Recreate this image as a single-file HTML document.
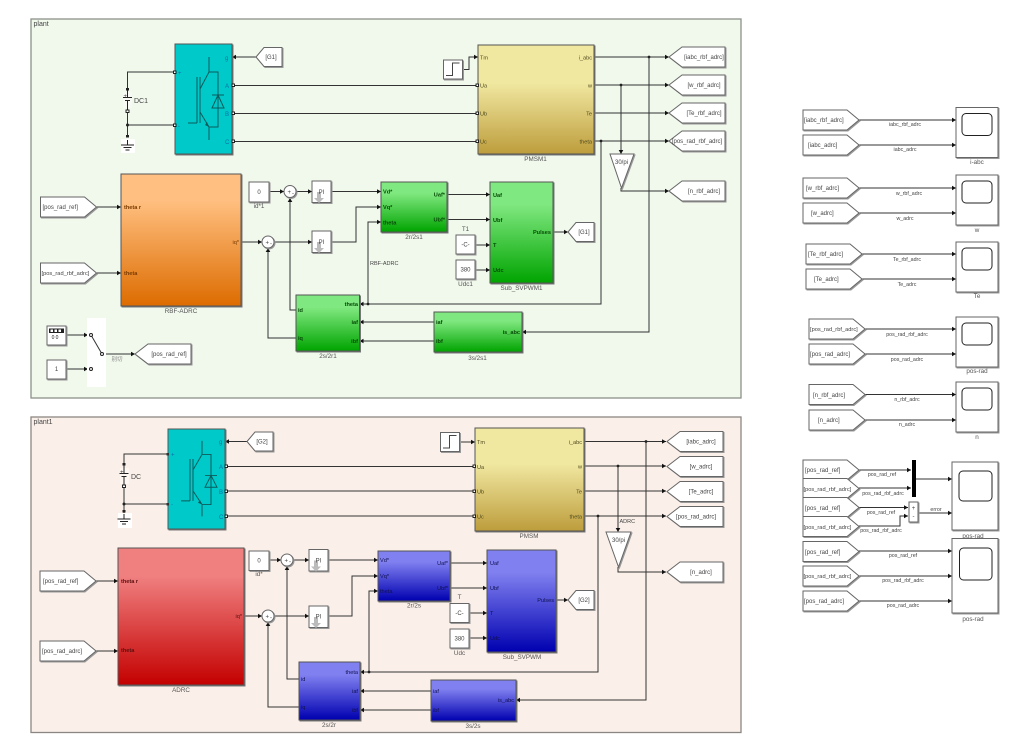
<!DOCTYPE html>
<html><head><meta charset="utf-8"><style>
html,body{margin:0;padding:0;background:#fff;width:1010px;height:749px;overflow:hidden}
svg{display:block;filter:blur(.3px)}
text{font-family:"Liberation Sans","Noto Sans CJK SC",sans-serif;font-size:6px;fill:#444}
.m{text-anchor:middle}.e{text-anchor:end}
.w{fill:none;stroke:#333;stroke-width:1}
.a{marker-end:url(#ar)}
.b{stroke:#555;stroke-width:1;filter:drop-shadow(1px 1px 0 #777)}
.c{fill:#fff;stroke:#666;stroke-width:1;filter:drop-shadow(1px 1px 0 #999)}
.n{fill:#222}
.sq{fill:#fff;stroke:#111;stroke-width:.9}
.ic{fill:none;stroke:#0b5b5b;stroke-width:1}
.big{font-size:7px}.lbl{font-size:6.3px;fill:#555}
.or text,.or{fill:#7a3a00;font-weight:bold;font-size:5.6px}
.gr{fill:#064a06;font-size:5.6px;font-weight:bold}
.bl{fill:#101050;font-size:5.6px}
.ye{fill:#4f4a20;font-size:5.6px}
.cy{fill:#0b6fa8;font-size:6px}
</style></head><body>
<svg width="1010" height="749" viewBox="0 0 1010 749" xmlns="http://www.w3.org/2000/svg">
<defs>
<marker id="ar" markerUnits="userSpaceOnUse" markerWidth="7" markerHeight="7" refX="5" refY="3.5" orient="auto"><path d="M1 1.2L5 3.5 1 5.8z" fill="#111"/></marker>
<linearGradient id="gO" x1="0" y1="0" x2="0" y2="1"><stop offset=".2" stop-color="#ffbf80"/><stop offset="1" stop-color="#dd6c00"/></linearGradient>
<linearGradient id="gY" x1="0" y1="0" x2="0" y2="1"><stop offset=".35" stop-color="#f0e7a0"/><stop offset="1" stop-color="#bd9d3c"/></linearGradient>
<linearGradient id="gG" x1="0" y1="0" x2="0" y2="1"><stop offset=".22" stop-color="#80e880"/><stop offset="1" stop-color="#00a400"/></linearGradient>
<linearGradient id="gB" x1="0" y1="0" x2="0" y2="1"><stop offset=".22" stop-color="#8080f0"/><stop offset="1" stop-color="#0000b0"/></linearGradient>
<linearGradient id="gR" x1="0" y1="0" x2="0" y2="1"><stop offset=".2" stop-color="#f08080"/><stop offset="1" stop-color="#c40000"/></linearGradient>
<path id="fr" d="M0-10h44l12 10-12 10H0z" class="c"/>
<path id="gl" d="M0 0l13-10h43v20H13z" class="c"/>
<path id="gs" d="M0 0l8-9.5h18v19H8z" class="c"/>
<g id="scope"><rect x="0" y="0" width="42" height="50" class="c"/><rect x="6" y="6" width="30" height="22" rx="4" fill="#fff" stroke="#222"/></g>
<g id="igbt">
<path class="ic" d="M22 33V79M25 33V79M13 79H22M34 13V28L25 45M25 68L34 83V96M34 28H43V83H34M43 28V51M43 64V83M37 51H49M37 64H49L43 51z"/>
<path d="M34 83l-4-2 2-3z" fill="#0b5b5b"/>
</g>
<g id="gnd"><path d="M0 0V5M-6.5 5H6.5M-4 7.5H4M-2 10H2" fill="none" stroke="#222" stroke-width="1"/></g>
<g id="pi"><rect width="19" height="21.5" class="c"/><path d="M5 11h4v6h3l-5 5-5-5h3z" fill="#bbb"/></g>
</defs>

<!-- panels -->
<rect x="31" y="19" width="710" height="379" fill="#f1f8ec" stroke="#8d9189" stroke-width="1.3"/>
<rect x="31" y="417" width="710" height="315.5" fill="#fbf0e9" stroke="#8a8683" stroke-width="1.3"/>
<text x="33.5" y="26" class="big" fill="#666">plant</text>
<text x="33.5" y="424" class="big" fill="#666">plant1</text>

<!-- ======= TOP WIRES ======= -->
<path class="w" d="M175 72H127.5V135M127.5 125H175M232 85.5H477M232 113.5H477M232 141.5H477"/>
<path class="w a" d="M256 57H232"/>
<path class="w a" d="M462 69.5H469V57H478"/>
<path class="w a" d="M594 57H669"/>
<path class="w a" d="M594 85H669"/>
<path class="w a" d="M594 113H669"/>
<path class="w a" d="M594 141H669"/>
<path class="w a" d="M621 85V154"/>
<path class="w a" d="M621 188V191H669"/>
<path class="w a" d="M649 57V332H522"/>
<path class="w a" d="M601 141V304H359.5"/>
<path class="w a" d="M368 304V222H381"/>
<path class="w a" d="M97 207H121"/>
<path class="w a" d="M97 273H121"/>
<path class="w a" d="M241 242H262"/>
<path class="w a" d="M274 242H312"/>
<path class="w a" d="M269 191.500H284"/>
<path class="w a" d="M296 191.500H312"/>
<path class="w a" d="M331 191.500H381"/>
<path class="w a" d="M331 242H356V207H381"/>
<path class="w a" d="M296 310H290V198"/>
<path class="w a" d="M296 338H268V248"/>
<path class="w a" d="M447 194.500H490"/>
<path class="w a" d="M447 219.500H490"/>
<path class="w a" d="M475 245H490"/>
<path class="w a" d="M475 270H490"/>
<path class="w a" d="M553 232H568"/>
<path class="w a" d="M434 322H359.500"/>
<path class="w a" d="M434 341H359.500"/>
<path class="w a" d="M66 335H88"/>
<path class="w a" d="M66 369H88"/>
<path class="w a" d="M104 354H135"/>

<!-- ======= TOP BLOCKS ======= -->
<rect x="175" y="44" width="57" height="110" fill="#00c9c9" class="b"/>
<use href="#igbt" x="175" y="44"/>
<text x="225" y="60" class="cy">g</text><text x="225" y="88" class="cy">A</text><text x="225" y="116" class="cy">B</text><text x="225" y="144" class="cy">C</text>
<text x="178" y="75" class="cy">+</text><text x="178" y="128" class="cy">-</text>
<rect x="173.500" y="71" width="2.500" height="2.500" class="sq"/><rect x="173.500" y="124" width="2.500" height="2.500" class="sq"/>
<rect x="232" y="84" width="2.500" height="2.500" class="sq"/><rect x="232" y="112" width="2.500" height="2.500" class="sq"/><rect x="232" y="140" width="2.500" height="2.500" class="sq"/>
<use href="#gs" x="256" y="57"/><text x="271" y="59" class="m">[G1]</text>

<rect x="123" y="92" width="9" height="16" fill="#f7faf4"/>
<path d="M127.500 88V97M123 97.500H132M125 100.500H130M127.500 100.500V110" fill="none" stroke="#222"/>
<text x="134" y="103" class="big" fill="#444">DC1</text><text x="123.500" y="98" font-size="5" fill="#222">+</text>
<rect x="126" y="88" width="3" height="2.500" fill="#222"/><rect x="126" y="110" width="3" height="2.500" class="sq"/>
<rect x="121" y="139" width="14" height="14" fill="#fff"/>
<use href="#gnd" x="127.500" y="140"/>
<rect x="126" y="135" width="3" height="2.500" fill="#222"/><circle cx="127.500" cy="125" r="1.500" class="n"/>

<rect x="478" y="45" width="116" height="109" fill="url(#gY)" class="b"/>
<text x="480" y="59.500" class="ye">Tm</text><text x="480" y="87.500" class="ye">Ua</text><text x="480" y="115.500" class="ye">Ub</text><text x="480" y="143.500" class="ye">Uc</text>
<text x="592" y="59.500" class="ye e">i_abc</text><text x="592" y="87.500" class="ye e">w</text><text x="592" y="115.500" class="ye e">Te</text><text x="592" y="143.500" class="ye e">theta</text>
<rect x="476" y="84" width="2.500" height="2.500" class="sq"/><rect x="476" y="112" width="2.500" height="2.500" class="sq"/><rect x="476" y="140" width="2.500" height="2.500" class="sq"/>
<text x="535.500" y="161" class="lbl m">PMSM1</text>
<rect x="443.500" y="60" width="19" height="19" class="c"/><path d="M446 75.500h6.500v-12.500h7" fill="none" stroke="#444"/>

<use href="#gl" x="669" y="57"/><use href="#gl" x="669" y="85"/><use href="#gl" x="669" y="113"/><use href="#gl" x="669" y="141"/><use href="#gl" x="669" y="191"/>
<text x="704" y="59" class="m">[iabc_rbf_adrc]</text><text x="704" y="87" class="m">[w_rbf_adrc]</text><text x="704" y="115" class="m">[Te_rbf_adrc]</text><text x="697" y="143" class="m">[pos_rad_rbf_adrc]</text><text x="704" y="193" class="m">[n_rbf_adrc]</text>
<path d="M610 154H634L621.500 188z" class="c"/><text x="621.500" y="164" class="m">30/pi</text>
<circle cx="649" cy="57" r="1.400" class="n"/><circle cx="621" cy="85" r="1.400" class="n"/><circle cx="601" cy="141" r="1.400" class="n"/><circle cx="368" cy="304" r="1.400" class="n"/>

<rect x="121" y="174" width="120" height="132" fill="url(#gO)" class="b"/>
<text x="124" y="209" class="or">theta r</text><text x="124" y="275" class="or">theta</text><text x="239" y="244" class="e" style="fill:#7a3a00;font-size:5.600px">iq*</text>
<text x="181" y="313" class="lbl m">RBF-ADRC</text>
<use href="#fr" x="40.500" y="207"/><use href="#fr" x="40.500" y="273"/>
<text x="42.500" y="209">[pos_rad_ref]</text><text x="41.500" y="275" style="font-size:5.700px">[pos_rad_rbf_adrc]</text>

<rect x="249" y="182" width="20" height="20" class="c"/><text x="259" y="194" class="m">0</text><text x="259" y="208" class="lbl m">id*1</text>
<circle cx="290" cy="191.500" r="6" class="c"/><text x="287.500" y="194" fill="#111">+</text><text x="292" y="195" fill="#111">-</text>
<circle cx="268" cy="242" r="6" class="c"/><text x="265.500" y="244.500" fill="#111">+</text><text x="270" y="245.500" fill="#111">-</text>
<use href="#pi" x="312" y="181"/><text x="321.500" y="194" class="m">PI</text>
<use href="#pi" x="312" y="231"/><text x="321.500" y="244" class="m">PI</text>

<rect x="381" y="182" width="66" height="50" fill="url(#gG)" class="b"/>
<text x="383" y="193.500" class="gr">Vd*</text><text x="383" y="209" class="gr">Vq*</text><text x="383" y="224.500" class="gr">theta</text>
<text x="445" y="196.500" class="gr e">Uaf*</text><text x="445" y="221.500" class="gr e">Ubf*</text>
<text x="414" y="239" class="lbl m">2r/2s1</text>
<text x="370" y="265" style="font-size:5.500px">RBF-ADRC</text>

<rect x="490" y="182" width="63" height="101" fill="url(#gG)" class="b"/>
<text x="493" y="197" class="gr">Uaf</text><text x="493" y="222" class="gr">Ubf</text><text x="493" y="247" class="gr">T</text><text x="493" y="272" class="gr">Udc</text>
<text x="551" y="234" class="gr e">Pulses</text>
<text x="521.500" y="290" class="lbl m">Sub_SVPWM1</text>
<use href="#gs" x="568" y="232"/><text x="584" y="234" class="m">[G1]</text>
<rect x="456" y="235" width="19" height="19" class="c"/><text x="465.500" y="246.500" class="m">-C-</text><text x="465.500" y="231" class="lbl m">T1</text>
<rect x="456" y="260" width="19" height="19" class="c"/><text x="465.500" y="271.500" class="m">380</text><text x="465.500" y="286" class="lbl m">Udc1</text>

<rect x="296" y="295" width="63.500" height="56" fill="url(#gG)" class="b"/>
<text x="298" y="312" class="gr">id</text><text x="298" y="340" class="gr">iq</text>
<text x="358" y="306" class="gr e">theta</text><text x="358" y="324" class="gr e">iaf</text><text x="358" y="343" class="gr e">ibf</text>
<text x="328" y="358" class="lbl m">2s/2r1</text>
<rect x="434" y="312" width="88" height="40" fill="url(#gG)" class="b"/>
<text x="436" y="324" class="gr">iaf</text><text x="436" y="343" class="gr">ibf</text><text x="520" y="334" class="gr e">is_abc</text>
<text x="477.500" y="360" class="lbl m">3s/2s1</text>

<rect x="87" y="318" width="19" height="69" fill="#fff"/>
<path class="w" d="M91 335L102 354"/>
<circle cx="91" cy="335" r="1.500" fill="#fff" stroke="#222"/><circle cx="91" cy="369" r="1.500" fill="#fff" stroke="#222"/><circle cx="102" cy="354" r="1.500" fill="#fff" stroke="#222"/>
<text x="117" y="361" class="m" style="font-size:5.500px;fill:#888">别切</text>
<rect x="47" y="326" width="19" height="19" class="c"/><rect x="49" y="328.500" width="15" height="4.500" fill="#222"/><path d="M50.500 329.500h2.500v2.500h-2.500zM54.500 329.500h2.500v2.500h-2.500zM58.500 329.500h2.500v2.500h-2.500z" fill="#fff"/><text x="53" y="339" style="font-size:5px;fill:#222" class="m">0</text><text x="57" y="339" style="font-size:5px;fill:#222" class="m">0</text>
<rect x="47" y="360" width="19" height="19" class="c"/><text x="56.500" y="371" class="m">1</text>
<use href="#gl" x="135" y="354"/><text x="169" y="356" class="m">[pos_rad_ref]</text>

<!-- ======= BOTTOM WIRES ======= -->
<path class="w" d="M168 454H124V515M124 504H168M225 466.500H474M225 491H474M225 516H474"/>
<path class="w a" d="M247 441.500H225"/>
<path class="w a" d="M459 442H475"/>
<path class="w a" d="M584 441.500H666"/>
<path class="w a" d="M584 466H666"/>
<path class="w a" d="M584 491H666"/>
<path class="w a" d="M584 516H666"/>
<path class="w a" d="M618 466V532"/>
<path class="w a" d="M618 567V572H666"/>
<path class="w a" d="M646 441.500V700H516"/>
<path class="w a" d="M598 516V672H360"/>
<path class="w a" d="M369 672V591H378"/>
<path class="w a" d="M96 581H118"/>
<path class="w a" d="M96 651H118"/>
<path class="w a" d="M244 616H262"/>
<path class="w a" d="M274 616H309"/>
<path class="w a" d="M269 560H281"/>
<path class="w a" d="M293 560H309"/>
<path class="w a" d="M328 560H378"/>
<path class="w a" d="M328 616H352V576H378"/>
<path class="w a" d="M299 679H287V566"/>
<path class="w a" d="M299 707H268V622"/>
<path class="w a" d="M450 563H487"/>
<path class="w a" d="M450 588H487"/>
<path class="w a" d="M469 613H487"/>
<path class="w a" d="M469 638H487"/>
<path class="w a" d="M556 600H568"/>
<path class="w a" d="M431 691H360"/>
<path class="w a" d="M431 710H360"/>

<!-- ======= BOTTOM BLOCKS ======= -->
<rect x="168" y="429" width="57" height="100" fill="#00c9c9" class="b"/>
<use href="#igbt" transform="translate(168,429) scale(1,.91)"/>
<text x="219" y="444" class="cy">g</text><text x="219" y="469" class="cy">A</text><text x="219" y="494" class="cy">B</text><text x="219" y="519" class="cy">C</text>
<text x="171" y="456.500" class="cy">+</text><text x="171" y="506.500" class="cy">-</text>
<rect x="166.500" y="453" width="2.500" height="2.500" fill="#333"/><rect x="166.500" y="503" width="2.500" height="2.500" fill="#333"/>
<rect x="225" y="465" width="2.500" height="2.500" class="sq"/><rect x="225" y="490" width="2.500" height="2.500" class="sq"/><rect x="225" y="515" width="2.500" height="2.500" class="sq"/>
<use href="#gs" x="247" y="441.500"/><text x="262" y="443.500" class="m">[G2]</text>

<rect x="120" y="468" width="9" height="16" fill="#fdf6f1"/>
<path d="M124 464V473M119.500 473.500H128.500M121.500 476.500H126.500M124 476.500V486" fill="none" stroke="#222"/>
<text x="131" y="479" class="big" fill="#444">DC</text><text x="120" y="474" font-size="5" fill="#222">+</text>
<rect x="122.500" y="463" width="3" height="2.500" fill="#222"/><rect x="122.500" y="485" width="3" height="2.500" class="sq"/>
<rect x="118" y="513" width="14" height="15" fill="#fff"/>
<use href="#gnd" x="124" y="514"/>
<rect x="122.500" y="510" width="3" height="2.500" fill="#222"/><circle cx="124" cy="504" r="1.500" class="n"/>

<rect x="475" y="428" width="109" height="103" fill="url(#gY)" class="b"/>
<text x="477" y="444" class="ye">Tm</text><text x="477" y="469" class="ye">Ua</text><text x="477" y="493.500" class="ye">Ub</text><text x="477" y="518.500" class="ye">Uc</text>
<text x="582" y="444" class="ye e">i_abc</text><text x="582" y="468.500" class="ye e">w</text><text x="582" y="493.500" class="ye e">Te</text><text x="582" y="518.500" class="ye e">theta</text>
<rect x="473" y="465" width="2.500" height="2.500" class="sq"/><rect x="473" y="490" width="2.500" height="2.500" class="sq"/><rect x="473" y="515" width="2.500" height="2.500" class="sq"/>
<text x="529" y="538" class="lbl m">PMSM</text>
<rect x="440.500" y="432.500" width="19" height="19" class="c"/><path d="M443 448h6.500v-12.500h7" fill="none" stroke="#444"/>

<use href="#gl" x="667" y="441.500"/><use href="#gl" x="667" y="466.500"/><use href="#gl" x="667" y="491.500"/><use href="#gl" x="667" y="516.500"/><use href="#gl" x="667" y="572"/>
<text x="701" y="443.500" class="m">[iabc_adrc]</text><text x="701" y="468.500" class="m">[w_adrc]</text><text x="701" y="493.500" class="m">[Te_adrc]</text><text x="696" y="518.500" class="m">[pos_rad_adrc]</text><text x="701" y="574" class="m">[n_adrc]</text>
<path d="M606 532H631L618.500 567z" class="c"/><text x="618.500" y="542" class="m">30/pi</text>
<text x="619.500" y="523" style="font-size:5.500px">ADRC</text>
<circle cx="646" cy="441.500" r="1.400" class="n"/><circle cx="618" cy="466" r="1.400" class="n"/><circle cx="598" cy="516" r="1.400" class="n"/><circle cx="369" cy="672" r="1.400" class="n"/>

<rect x="118" y="548" width="126" height="137" fill="url(#gR)" class="b"/>
<text x="121" y="583" style="fill:#5a1010;font-size:5.600px;font-weight:bold">theta r</text><text x="121" y="652" style="fill:#5a1010;font-size:5.600px;font-weight:bold">theta</text><text x="242" y="618" class="e" style="fill:#5a1010;font-size:5.600px">iq*</text>
<text x="181" y="692" class="lbl m">ADRC</text>
<use href="#fr" x="40" y="581"/><use href="#fr" x="40" y="651"/>
<text x="43" y="583">[pos_rad_ref]</text><text x="42" y="653">[pos_rad_adrc]</text>

<rect x="249" y="551" width="20" height="19.500" class="c"/><text x="259" y="562.500" class="m">0</text><text x="259" y="576" class="lbl m">id*</text>
<circle cx="287" cy="560" r="6" class="c"/><text x="284.500" y="562.500" fill="#111">+</text><text x="289" y="563.500" fill="#111">-</text>
<circle cx="268" cy="616" r="6" class="c"/><text x="265.500" y="618.500" fill="#111">+</text><text x="270" y="619.500" fill="#111">-</text>
<use href="#pi" x="309" y="549.500"/><text x="318.500" y="562.500" class="m">PI</text>
<use href="#pi" x="309" y="606"/><text x="318.500" y="618.500" class="m">PI</text>

<rect x="378" y="551" width="72" height="50" fill="url(#gB)" class="b"/>
<text x="380" y="562" class="bl">Vd*</text><text x="380" y="578" class="bl">Vq*</text><text x="380" y="593" class="bl">theta</text>
<text x="448" y="565" class="bl e">Uaf*</text><text x="448" y="590" class="bl e">Ubf*</text>
<text x="414" y="607.500" class="lbl m">2r/2s</text>

<rect x="487" y="550" width="69" height="102" fill="url(#gB)" class="b"/>
<text x="490" y="565" class="bl">Uaf</text><text x="490" y="590" class="bl">Ubf</text><text x="490" y="615" class="bl">T</text><text x="490" y="640" class="bl">Udc</text>
<text x="554" y="602" class="bl e">Pulses</text>
<text x="522" y="659" class="lbl m">Sub_SVPWM</text>
<use href="#gs" x="568" y="600"/><text x="584" y="602" class="m">[G2]</text>
<rect x="450" y="603.500" width="19" height="19" class="c"/><text x="459.500" y="615" class="m">-C-</text><text x="459.500" y="599" class="lbl m">T</text>
<rect x="450" y="629" width="19" height="19" class="c"/><text x="459.500" y="640.500" class="m">380</text><text x="459.500" y="655" class="lbl m">Udc</text>

<rect x="299" y="662" width="61" height="58" fill="url(#gB)" class="b"/>
<text x="301" y="681" class="bl">id</text><text x="301" y="709" class="bl">iq</text>
<text x="358" y="674" class="bl e">theta</text><text x="358" y="693" class="bl e">iaf</text><text x="358" y="712" class="bl e">ibf</text>
<text x="329" y="727" class="lbl m">2s/2r</text>
<rect x="431" y="680" width="85" height="41" fill="url(#gB)" class="b"/>
<text x="433" y="693" class="bl">iaf</text><text x="433" y="712" class="bl">ibf</text><text x="514" y="702" class="bl e">is_abc</text>
<text x="473" y="728" class="lbl m">3s/2s</text>

<!-- ======= RIGHT SIDE ======= -->
<path class="w a" d="M859 120H956"/><path class="w a" d="M859 145H956"/>
<path class="w a" d="M859 188H956"/><path class="w a" d="M859 213H956"/>
<path class="w a" d="M862 254H956"/><path class="w a" d="M862 279H956"/>
<path class="w a" d="M865 329H956"/><path class="w a" d="M865 354H956"/>
<path class="w a" d="M865 394.500H956"/><path class="w a" d="M865 420H956"/>
<path class="w a" d="M859 470H911"/><path class="w a" d="M859 488H911"/>
<path class="w a" d="M916 479H952"/>
<path class="w a" d="M859 507.500H908"/><path class="w a" d="M859 526H900V516H908"/>
<path class="w a" d="M918 513H952"/>
<path class="w a" d="M859 551H952"/><path class="w a" d="M859 576H952"/><path class="w a" d="M859 601H952"/>

<use href="#fr" x="803" y="120"/><use href="#fr" x="803" y="145"/><use href="#fr" x="803" y="188"/><use href="#fr" x="803" y="213"/>
<use href="#fr" x="806" y="254"/><use href="#fr" x="806" y="279"/><use href="#fr" x="809" y="329"/><use href="#fr" x="809" y="354"/>
<use href="#fr" x="809" y="394.500"/><use href="#fr" x="809" y="420"/>
<use href="#fr" x="803" y="470"/><use href="#fr" x="803" y="488.500"/><use href="#fr" x="803" y="507.500"/><use href="#fr" x="803" y="526.500"/>
<use href="#fr" x="803" y="551.500"/><use href="#fr" x="803" y="576"/><use href="#fr" x="803" y="601"/>

<text x="804" y="122">[iabc_rbf_adrc]</text><text x="808" y="147">[iabc_adrc]</text>
<text x="806" y="190">[w_rbf_adrc]</text><text x="811" y="215">[w_adrc]</text>
<text x="808" y="256">[Te_rbf_adrc]</text><text x="814" y="281">[Te_adrc]</text>
<text x="810" y="331" style="font-size:5.700px">[pos_rad_rbf_adrc]</text><text x="810" y="356">[pos_rad_adrc]</text>
<text x="813" y="397">[n_rbf_adrc]</text><text x="818" y="422">[n_adrc]</text>
<text x="805" y="472">[pos_rad_ref]</text><text x="803.500" y="491" style="font-size:5.700px">[pos_rad_rbf_adrc]</text>
<text x="805" y="510">[pos_rad_ref]</text><text x="803.500" y="529" style="font-size:5.700px">[pos_rad_rbf_adrc]</text>
<text x="805" y="554">[pos_rad_ref]</text><text x="803.500" y="578" style="font-size:5.700px">[pos_rad_rbf_adrc]</text><text x="804" y="603">[pos_rad_adrc]</text>

<g style="font-size:5.300px">
<text x="905" y="126" class="m" style="font-size:5.300px">iabc_rbf_adrc</text><text x="905" y="151" class="m" style="font-size:5.300px">iabc_adrc</text>
<text x="909" y="195" class="m" style="font-size:5.300px">w_rbf_adrc</text><text x="905" y="220" class="m" style="font-size:5.300px">w_adrc</text>
<text x="907" y="261" class="m" style="font-size:5.300px">Te_rbf_adrc</text><text x="907" y="286" class="m" style="font-size:5.300px">Te_adrc</text>
<text x="907" y="336" class="m" style="font-size:5.300px">pos_rad_rbf_adrc</text><text x="907" y="361" class="m" style="font-size:5.300px">pos_rad_adrc</text>
<text x="907" y="401" class="m" style="font-size:5.300px">n_rbf_adrc</text><text x="907" y="426" class="m" style="font-size:5.300px">n_adrc</text>
<text x="882" y="476" class="m" style="font-size:5.300px">pos_rad_ref</text><text x="883" y="495" class="m" style="font-size:5.300px">pos_rad_rbf_adrc</text>
<text x="881" y="514" class="m" style="font-size:5.300px">pos_rad_ref</text><text x="881" y="532" class="m" style="font-size:5.300px">pos_rad_rbf_adrc</text>
<text x="936" y="511" class="m" style="font-size:5.300px">error</text>
<text x="903" y="557" class="m" style="font-size:5.300px">pos_rad_ref</text><text x="903" y="582" class="m" style="font-size:5.300px">pos_rad_rbf_adrc</text><text x="903" y="607" class="m" style="font-size:5.300px">pos_rad_adrc</text>
</g>

<rect x="912" y="460" width="4" height="37" fill="#000"/>
<rect x="909" y="502" width="9" height="20" class="c"/><text x="913.500" y="510" class="m" fill="#222">+</text><text x="913.500" y="518" class="m" fill="#222">-</text>

<use href="#scope" x="956" y="107.500"/><text x="977" y="164" class="lbl m">i-abc</text>
<use href="#scope" x="956" y="175"/><text x="977" y="232" class="lbl m">w</text>
<use href="#scope" x="956" y="242"/><text x="977" y="298" class="lbl m">Te</text>
<use href="#scope" x="956" y="317"/><text x="977" y="373" class="lbl m">pos-rad</text>
<use href="#scope" x="956" y="382"/><text x="977" y="439" class="lbl m">n</text>

<rect x="952" y="462" width="46" height="68" class="c"/><rect x="959" y="471" width="33" height="30" rx="4" fill="#fff" stroke="#222"/><text x="973" y="538" class="lbl m">pos-rad</text>
<rect x="952" y="538.500" width="46" height="74.500" class="c"/><rect x="959.500" y="548" width="32.500" height="32" rx="4" fill="#fff" stroke="#222"/><text x="973" y="621" class="lbl m">pos-rad</text>
</svg>
</body></html>
